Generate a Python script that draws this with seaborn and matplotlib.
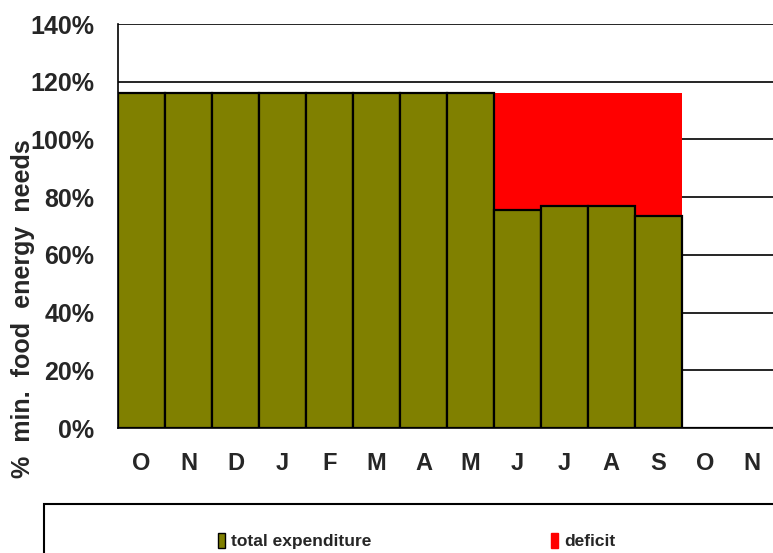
import numpy as np
import pandas as pd
import matplotlib
matplotlib.use("Agg")
import matplotlib.pyplot as plt
from matplotlib.patches import Rectangle, Patch
import seaborn as sns

# month labels (Oct to Nov of the next year)
months = ["O", "N", "D", "J", "F", "M", "A", "M", "J", "J", "A", "S", "O", "N"]
# % of min. food energy needs covered by total expenditure
expenditure = [116, 116, 116, 116, 116, 116, 116, 116, 75.5, 77, 77, 73.5, 0, 0]
# expenditure + deficit (top of the red part)
needs_line = [116, 116, 116, 116, 116, 116, 116, 116, 116, 116, 116, 116, 0, 0]

OLIVE = "#808000"
RED = "#FF0000"

sns.set_style("white")
plt.rcParams["font.family"] = ["Liberation Sans", "DejaVu Sans"]
plt.rcParams["font.weight"] = "bold"

df = pd.DataFrame({
    "key": [f"{m}{i}" for i, m in enumerate(months)],
    "expenditure": expenditure,
    "top": needs_line,
})

fig = plt.figure(figsize=(7.73, 5.53), dpi=100)
ax = fig.add_axes([0.1527, 0.226, 0.851, 0.7306])

# deficit drawn as full bar, expenditure on top of it
sns.barplot(data=df, x="key", y="top", color=RED, width=1.0, linewidth=0,
            saturation=1, ax=ax, zorder=2)
sns.barplot(data=df, x="key", y="expenditure", color=OLIVE, width=1.0,
            edgecolor="black", linewidth=1.6, saturation=1, ax=ax, zorder=3)

ax.set_xlim(-0.5, len(months) - 0.5)
ax.set_ylim(0, 140)
ax.set_yticks(np.arange(0, 141, 20))
ax.set_yticklabels([f"{v}%" for v in range(0, 141, 20)], fontsize=18, fontweight="bold")
ax.set_xticks(range(len(months)))
ax.set_xticklabels(months, fontsize=17, fontweight="bold")
ax.set_xticks(np.arange(-0.5, len(months), 1), minor=True)
ax.tick_params(axis="x", which="major", length=0, pad=17)
ax.tick_params(axis="x", which="minor", length=7, width=1, color="black", direction="out")
ax.tick_params(axis="y", length=6, width=1, color="black", direction="out", pad=11)

for v in range(20, 141, 20):
    ax.axhline(v, color="black", linewidth=1.2, zorder=1)

for s in ["top", "right"]:
    ax.spines[s].set_visible(False)
for s in ["left", "bottom"]:
    ax.spines[s].set_color("black")
    ax.spines[s].set_linewidth(1.2)

ax.set_xlabel("")
ax.set_ylabel("%  min.  food  energy  needs", fontsize=18, fontweight="bold")
ax.yaxis.label.set_verticalalignment("center")
ax.yaxis.set_label_coords(-0.144, 0.295)

# legend box at the bottom, running off the figure edge
fig.patches.append(Rectangle((44 / 773, -0.05), 1.0, 1 - 504 / 553 + 0.05,
                             transform=fig.transFigure, facecolor="white",
                             edgecolor="black", linewidth=1.5))
handles = [Patch(facecolor=OLIVE, edgecolor="black", linewidth=1),
           Patch(facecolor=RED, edgecolor=RED)]
fig.legend(handles, ["total expenditure", "deficit"], ncol=2, frameon=False,
           loc="center left", bbox_to_anchor=(209 / 773, 1 - 541 / 553),
           borderpad=0, prop={"size": 12.5, "weight": "bold"},
           handlelength=0.4, handleheight=1.0, handletextpad=0.35,
           columnspacing=10.35)

fig.savefig("out.png", dpi=100)
